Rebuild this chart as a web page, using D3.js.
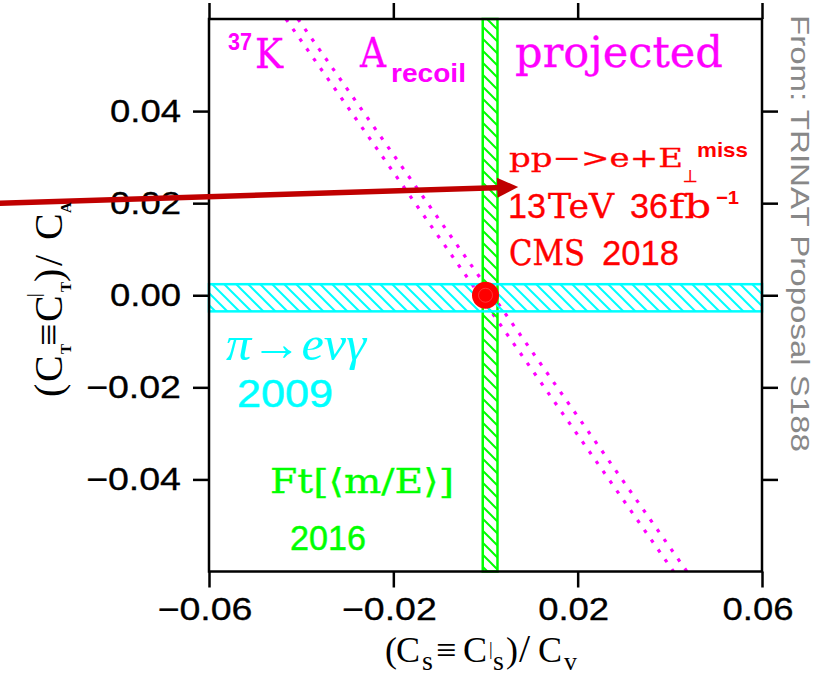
<!DOCTYPE html>
<html><head><meta charset="utf-8">
<script src="https://cdn.jsdelivr.net/npm/d3@7"></script>
<style>body{margin:0;background:#fff}svg{display:block}</style>
</head><body><svg id="c" width="820" height="677"></svg>
<script>
// ---- data ----
const xDomain = [-0.06, 0.06];
const yDomain = [-0.06, 0.06];
const xTickValues = [-0.06, -0.02, 0.02, 0.06];
const yTickValues = [-0.04, -0.02, 0.00, 0.02, 0.04];
const xTickLabels = ["\u22120.06", "\u22120.02", "0.02", "0.06"];
const yTickLabels = ["\u22120.04", "\u22120.02", "0.00", "0.02", "0.04"];
const greenBandX = [-0.0006, 0.0026];        // Ft[<m/E>] 2016
const cyanBandY = [-0.0035, 0.0024];         // pi -> e nu gamma 2009
const projLineA = [[-0.0433, 0.06], [0.0408, -0.06]];   // 37K A_recoil projected
const projLineB = [[-0.0407, 0.06], [0.0437, -0.06]];
const smPoint = [0.0, 0.0];
const cmsArrow = [[-0.1054, 0.0200], [0.0071, 0.0235]]; // CMS 2018

// ---- layout ----
const svg = d3.select("#c");
const L = 209, R = 762, TOP = 19, BOT = 571.5;
const x = d3.scaleLinear().domain(xDomain).range([L, R]);
const y = d3.scaleLinear().domain(yDomain).range([BOT, TOP]);

const SANS = "'Liberation Sans', Arial, sans-serif";
const MONO = "'DejaVu Serif', 'Liberation Mono', serif";
const SERIF = "'Liberation Serif', 'Times New Roman', serif";

const defs = svg.append("defs");
function hatch(id, color) {
  const p = defs.append("pattern").attr("id", id).attr("patternUnits", "userSpaceOnUse")
    .attr("width", 12).attr("height", 12);
  p.append("path").attr("d", "M-2,-2 L14,14 M-2,10 L2,14 M10,-2 L14,2")
    .attr("stroke", color).attr("stroke-width", 2).attr("fill", "none");
}
hatch("hg", "#00ff00");
hatch("hc", "#00ffff");
defs.append("clipPath").attr("id", "clip").append("rect")
  .attr("x", L).attr("y", TOP).attr("width", R - L).attr("height", BOT - TOP);

// magenta projected lines
const line = d3.line().x(d => x(d[0])).y(d => y(d[1]));
[projLineA, projLineB].forEach(pl => {
  svg.append("path").attr("d", line(pl)).attr("clip-path", "url(#clip)")
    .attr("stroke", "#ff00ff").attr("stroke-width", 3.2).attr("fill", "none")
    .attr("stroke-dasharray", "3.5 8.5");
});

// green band
svg.append("rect").attr("x", x(greenBandX[0])).attr("width", x(greenBandX[1]) - x(greenBandX[0]))
  .attr("y", TOP).attr("height", BOT - TOP)
  .attr("fill", "url(#hg)").attr("stroke", "#00ff00").attr("stroke-width", 2.5);
// cyan band
svg.append("rect").attr("x", L).attr("width", R - L)
  .attr("y", y(cyanBandY[1])).attr("height", y(cyanBandY[0]) - y(cyanBandY[1]))
  .attr("fill", "url(#hc)").attr("stroke", "#00ffff").attr("stroke-width", 2.5);

// frame
svg.append("rect").attr("x", L).attr("y", TOP).attr("width", R - L).attr("height", BOT - TOP)
  .attr("fill", "none").attr("stroke", "#000").attr("stroke-width", 2.5);

// axes (ticks outward)
function styleAxis(g) {
  g.select(".domain").remove();
  g.selectAll(".tick line").attr("stroke", "#000").attr("stroke-width", 2.5);
  g.selectAll(".tick text").remove();
}
svg.append("g").attr("transform", `translate(0,${BOT})`)
  .call(d3.axisBottom(x).tickValues(xTickValues).tickSize(16).tickSizeOuter(0)).call(styleAxis);
svg.append("g").attr("transform", `translate(0,${TOP})`)
  .call(d3.axisTop(x).tickValues(xTickValues).tickSize(16).tickSizeOuter(0)).call(styleAxis);
svg.append("g").attr("transform", `translate(${L},0)`)
  .call(d3.axisLeft(y).tickValues(yTickValues).tickSize(16).tickSizeOuter(0)).call(styleAxis);
svg.append("g").attr("transform", `translate(${R},0)`)
  .call(d3.axisRight(y).tickValues(yTickValues).tickSize(16).tickSizeOuter(0)).call(styleAxis);

// tick labels
const labLen = s => s.startsWith("\u2212") ? 95 : 71;
svg.append("g").selectAll("text").data(xTickValues).join("text")
  .attr("x", (d, i) => x(d) - 4 - labLen(xTickLabels[i]) / 2)
  .attr("y", 620)
  .attr("textLength", (d, i) => labLen(xTickLabels[i]))
  .attr("lengthAdjust", "spacingAndGlyphs")
  .attr("font-family", SANS).attr("font-size", 31).attr("fill", "#000")
  .attr("stroke", "#000").attr("stroke-width", 0.3)
  .text((d, i) => xTickLabels[i]);
svg.append("g").selectAll("text").data(yTickValues).join("text")
  .attr("x", (d, i) => 181 - labLen(yTickLabels[i]))
  .attr("y", d => y(d) + 11)
  .attr("textLength", (d, i) => labLen(yTickLabels[i]))
  .attr("lengthAdjust", "spacingAndGlyphs")
  .attr("font-family", SANS).attr("font-size", 31).attr("fill", "#000")
  .attr("stroke", "#000").attr("stroke-width", 0.3)
  .text((d, i) => yTickLabels[i]);

// SM point
svg.append("circle").attr("cx", x(smPoint[0])).attr("cy", y(smPoint[1])).attr("r", 13.5).attr("fill", "#ff0000");
svg.append("circle").attr("cx", x(smPoint[0])).attr("cy", y(smPoint[1])).attr("r", 7)
  .attr("fill", "none").attr("stroke", "#ff5a5a").attr("stroke-width", 0.6);

// CMS arrow
{
  const p0 = [x(cmsArrow[0][0]), y(cmsArrow[0][1])];
  const p1 = [x(cmsArrow[1][0]), y(cmsArrow[1][1])];
  const dx = p1[0] - p0[0], dy = p1[1] - p0[1], len = Math.hypot(dx, dy);
  const u = [dx / len, dy / len], n = [-u[1], u[0]];
  const hl = 21, hw = 10;
  svg.append("line").attr("x1", p0[0]).attr("y1", p0[1])
    .attr("x2", p1[0] - u[0] * 15).attr("y2", p1[1] - u[1] * 15)
    .attr("stroke", "#c00000").attr("stroke-width", 5.5);
  const b = [p1[0] - u[0] * hl, p1[1] - u[1] * hl];
  svg.append("polygon").attr("points",
    [p1, [b[0] + n[0] * hw, b[1] + n[1] * hw], [b[0] - n[0] * hw, b[1] - n[1] * hw]].map(p => p.join(",")).join(" "))
    .attr("fill", "#c00000");
}

// text helper
function T(str, px, py, o) {
  const t = svg.append("text").attr("x", px).attr("y", py).text(str)
    .attr("font-family", o.f).attr("font-size", o.s).attr("fill", o.c || "#000");
  if (o.w) t.attr("font-weight", o.w);
  if (o.it) t.attr("font-style", "italic");
  if (o.sw) t.attr("stroke", o.c || "#000").attr("stroke-width", o.sw);
  if (o.len) t.attr("textLength", o.len).attr("lengthAdjust", "spacingAndGlyphs");
  if (o.rot) t.attr("transform", `rotate(${o.rot},${px},${py})`);
  return t;
}

const MAG = "#ff00ff", RED = "#ff0000", CY = "#00ffff", GR = "#00ff00";
// 37K A_recoil projected
T("37", 228, 50, {f: SANS, s: 24, w: "bold", c: MAG, len: 24});
T("K", 255, 68, {f: MONO, s: 41, c: MAG, len: 28, sw: 0.3});
T("A", 360, 67, {f: MONO, s: 41, c: MAG, len: 26, sw: 0.3});
T("recoil", 391, 82, {f: SANS, s: 26, w: "bold", c: MAG, len: 75});
T("projected", 515, 67, {f: MONO, s: 43, c: MAG, len: 208, sw: 0.3});

// CMS
T("pp\u2212>e+E", 509, 167, {f: MONO, s: 26, c: RED, len: 174, sw: 0.3});
T("\u22a5", 683, 182, {f: "'DejaVu Sans', sans-serif", s: 17, c: RED, sw: 0.4});
T("miss", 697, 157, {f: SANS, s: 21, w: "bold", c: RED, len: 51});
// 13TeV 36fb^-1 : words placed separately so the wide gap matches
T("13", 508, 218, {f: SANS, s: 35, c: RED, len: 38, sw: 0.3});
T("TeV", 548, 218, {f: MONO, s: 34, c: RED, len: 66, sw: 0.3});
T("36", 630, 218, {f: SANS, s: 35, c: RED, len: 38, sw: 0.3});
T("fb", 669, 218, {f: MONO, s: 34, c: RED, len: 42, sw: 0.3});
T("\u22121", 716, 204, {f: SANS, s: 19, w: "bold", c: RED, len: 23});
T("CMS", 509, 265, {f: MONO, s: 36, c: RED, len: 76, sw: 0.4});
T("2018", 602, 265, {f: SANS, s: 35, c: RED, len: 77, sw: 0.3});

// pi -> e nu gamma 2009
T("\u03c0\u2192e\u03bd\u03b3", 226, 360, {f: SERIF, s: 48, it: true, c: CY, len: 140});
T("2009", 237, 407, {f: SANS, s: 38, c: CY, len: 96, sw: 0.5});

// Ft 2016
T("Ft[\u27e8m/E\u27e9]", 270, 493, {f: MONO, s: 34, c: GR, len: 184, sw: 0.3});
T("2016", 290, 550, {f: SANS, s: 35, c: GR, len: 76, sw: 0.5});

// side note
T("From: TRINAT Proposal S188", 791, 15, {f: SANS, s: 25, c: "#888888", len: 437, rot: 90});

// x-axis title (C_s ≡ C'_s)/C_v
T("(", 385, 662, {f: SERIF, s: 36});
T("C", 396, 662, {f: SERIF, s: 36});
T("s", 422, 670, {f: SERIF, s: 28});
T("\u2261", 436, 662, {f: SERIF, s: 36});
T("C", 463, 662, {f: SERIF, s: 36});
T("|", 489, 655, {f: SERIF, s: 18});
T("s", 493, 670, {f: SERIF, s: 28});
T(")", 506, 662, {f: SERIF, s: 36});
T("/", 519, 662, {f: SERIF, s: 40});
T("C", 538, 662, {f: SERIF, s: 36});
T("v", 564, 670, {f: SERIF, s: 26});

// y-axis title (C_T ≡ C'_T)/C_A rotated
const YB = 62;
T("(", YB, 397, {f: SERIF, s: 40, rot: -90});
T("C", YB, 382, {f: SERIF, s: 40, rot: -90});
T("T", YB + 9, 354, {f: SERIF, s: 15, w: "bold", rot: -90});
T("\u2261", YB, 346, {f: SERIF, s: 40, rot: -90});
T("C", YB, 322, {f: SERIF, s: 40, rot: -90});
T("|", YB - 22, 297, {f: SERIF, s: 18, rot: -90});
T("T", YB + 9, 292, {f: SERIF, s: 15, w: "bold", rot: -90});
T(")", YB, 282, {f: SERIF, s: 40, rot: -90});
T("/", YB, 266, {f: SERIF, s: 40, rot: -90});
T("C", YB, 240, {f: SERIF, s: 40, rot: -90});
T("A", YB + 9, 213, {f: SERIF, s: 15, w: "bold", rot: -90});
</script></body></html>
